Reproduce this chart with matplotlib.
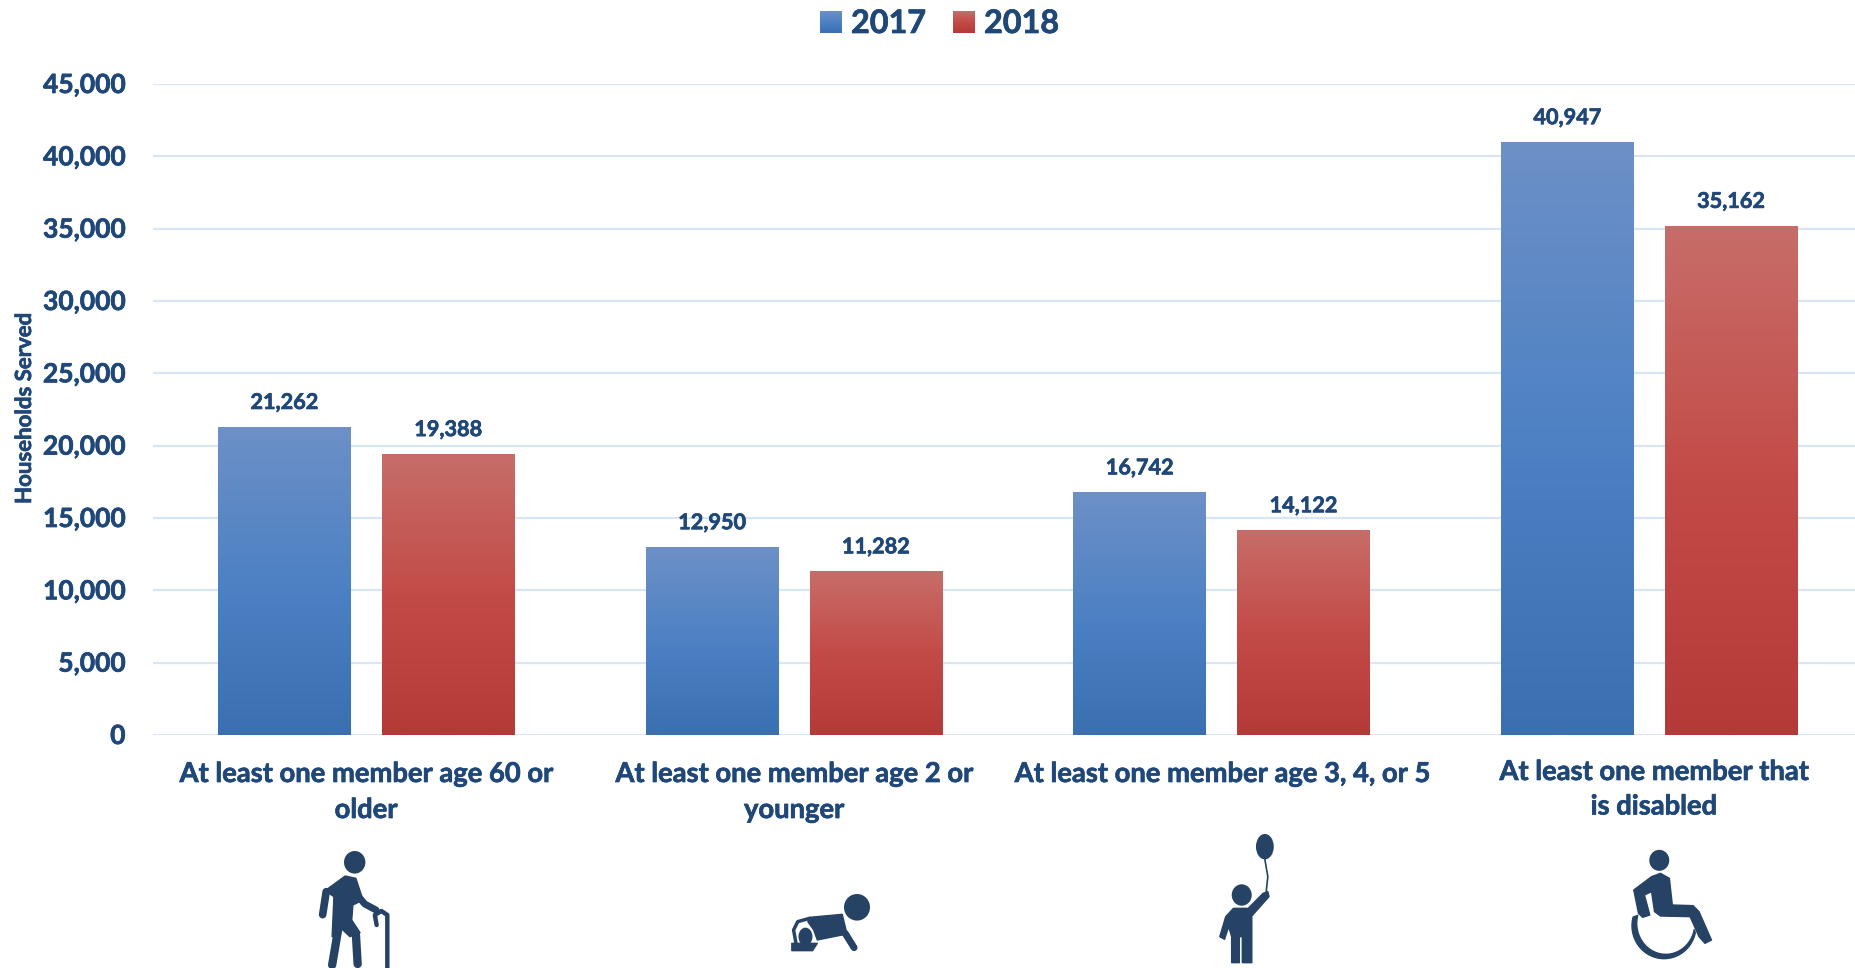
import matplotlib
matplotlib.use("Agg")
import matplotlib.pyplot as plt
import matplotlib.patheffects as pe
from matplotlib.patches import Ellipse, Polygon
from matplotlib.colors import LinearSegmentedColormap
from matplotlib.transforms import ScaledTranslation
import numpy as np

categories = ["At least one member age 60 or\nolder",
              "At least one member age 2 or\nyounger",
              "At least one member age 3, 4, or 5",
              "At least one member that\nis disabled"]
values_2017 = [21262, 12950, 16742, 40947]
values_2018 = [19388, 11282, 14122, 35162]
yticks = [0, 5000, 10000, 15000, 20000, 25000, 30000, 35000, 40000, 45000]

W, H = 1855, 968
NAVY = "#1f4778"
ICON = "#264264"
# Lato bold is a bit lighter than the original font
BOLD = [pe.withStroke(linewidth=0.5, foreground=NAVY)]

plt.rcParams["font.family"] = ["Lato", "DejaVu Sans"]
plt.rcParams["font.weight"] = "bold"

blue = LinearSegmentedColormap.from_list("b", [(0, "#3a6fb0"), (0.45, "#4a80c3"), (1, "#6d90c7")])
red = LinearSegmentedColormap.from_list("r", [(0, "#b43a38"), (0.5, "#c34b47"), (1, "#c76d69")])
grad = np.linspace(1, 0, 256).reshape(-1, 1)

fig = plt.figure(figsize=(W/100, H/100), dpi=100)
ax = fig.add_axes([152.5/W, 1-735/H, (1863-152.5)/W, (735-84)/H])
ax.set_axisbelow(True)
ax.grid(axis="y", color="#d8e5f4", lw=1.6)
for s in ax.spines.values():
    s.set_visible(False)
ax.set_yticks(yticks)
ax.set_yticklabels([f"{v:,}" for v in yticks], fontsize=19, color=NAVY, path_effects=BOLD)
ax.tick_params(axis="y", length=0, pad=19.5)
ax.set_xticks([])
# tick labels sit one pixel above the gridline
up = ScaledTranslation(0, 1/100, fig.dpi_scale_trans)
for lab in ax.get_yticklabels():
    lab.set_transform(lab.get_transform()+up)

width = 0.31
offset = 0.1915
x = np.arange(4)
for xs, vals, cmap in [(x-offset, values_2017, blue), (x+offset, values_2018, red)]:
    bars = ax.bar(xs, vals, width, color="none", zorder=2)
    for b, v in zip(bars, vals):
        ax.imshow(grad, cmap=cmap, vmin=0, vmax=1, aspect="auto", zorder=2,
                  extent=[b.get_x(), b.get_x()+b.get_width(), 0, v])
        ax.annotate(f"{v:,}", (b.get_x()+b.get_width()/2, v), xytext=(0, 10.4),
                    textcoords="offset points", ha="center", va="bottom",
                    fontsize=15.6, color=NAVY, path_effects=BOLD)
ax.set_xlim(-0.5, 3.5)
ax.set_ylim(0, 45000)

# overlay in reference pixels for labels, legend and icons
ov = fig.add_axes([0, 0, 1, 1], facecolor="none")
ov.axis("off")

# the last label sits slightly higher
label_x = [366, 794, 1222, 1654]
label_y = [774, 774, 774, 772]
for lx, ly, lab in zip(label_x, label_y, categories):
    step = 36 if ly == 774 else 34.5
    for j, t in enumerate(lab.split("\n")):
        ov.text(lx, ly+j*step, t, ha="center", va="center", fontsize=19.7, color=NAVY, path_effects=BOLD)

ov.text(24.5, 408, "Households Served", rotation=90, ha="center", va="center",
        fontsize=16, color=NAVY, path_effects=BOLD)

# legend
for x0, cmap, name in [(820, blue, "2017"), (953, red, "2018")]:
    ov.imshow(grad, cmap=cmap, vmin=0, vmax=1, aspect="auto", extent=[x0, x0+22, 33, 11])
    ov.text(x0+31, 23.5, name, ha="left", va="center", fontsize=23.3, color=NAVY, path_effects=BOLD)
ov.set_xlim(0, W)
ov.set_ylim(H, 0)


def P1(pts):
    return [(px/1.686, 780+py/3) for px, py in pts]


def P2(pts):
    return [(925+px/1.686, 780+py/3) for px, py in pts]


def head(cx, cy, rx, ry):
    ov.add_patch(Ellipse((cx, cy), 2*rx, 2*ry, color=ICON, lw=0))


def shape(pts):
    ov.add_patch(Polygon(pts, closed=True, fc=ICON, ec=ICON, lw=1, joinstyle="round"))


def stroke(pts, lw):
    a = np.array(pts)
    ov.plot(a[:, 0], a[:, 1], color=ICON, lw=lw, solid_capstyle="round", solid_joinstyle="round")


# old man with cane
head(354.7, 862.3, 10.7, 11.3)
shape(P1([(548, 332), (582, 288), (600, 295), (612, 360), (595, 375), (593, 420), (607, 458),
          (590, 470), (575, 445), (565, 470), (560, 470), (563, 350)]))
stroke(P1([(550, 335), (544, 404)]), 5.5)
stroke(P1([(602, 345), (615, 372), (634, 390)]), 5)
stroke(P1([(600, 462), (603, 552)]), 6)
stroke(P1([(570, 450), (560, 555)]), 6)
stroke(P1([(653, 564), (653, 405), (643, 393), (632, 405), (635, 435)]), 3.2)

# crawling baby
head(857, 907.3, 13, 13.3)
shape(P1([(1365, 412), (1420, 403), (1428, 462), (1378, 480), (1372, 450), (1362, 425)]))
stroke(P1([(1365, 415), (1345, 425), (1338, 450), (1342, 490)]), 2.5)
stroke(P1([(1425, 460), (1440, 503)]), 5)
ov.add_patch(Ellipse((1358/1.686, 780+470/3), 14, 18, color=ICON, lw=0))
shape(P1([(1335, 490), (1378, 490), (1370, 512), (1335, 512)]))

# child with balloon
head(925+573/1.686, 780+200/3, 8.9, 12.7)
stroke(P2([(573, 238), (578, 290), (575, 340)]), 1.2)
head(925+534/1.686, 780+345/3, 10, 10.7)
shape(P2([(578, 335), (580, 350), (551, 408), (551, 548), (535, 548), (535, 470), (530, 470),
          (530, 548), (517, 548), (517, 470), (512, 440), (505, 478), (497, 470), (507, 410),
          (520, 385), (545, 385), (570, 340)]))

# wheelchair
head(925+1238/1.686, 780+241/3, 10, 10.5)
shape(P2([(1240, 280), (1255, 295), (1260, 375), (1295, 377), (1305, 395), (1326, 480), (1315, 490),
          (1305, 470), (1290, 410), (1240, 408), (1230, 395), (1225, 335), (1213, 345), (1222, 405),
          (1210, 412), (1203, 400), (1195, 330), (1225, 290)]))
t = np.radians(np.linspace(12, 195, 60))
outer = list(zip(1246+54*np.cos(t), 437+99*np.sin(t)))
inner = list(zip(1249+49*np.cos(t), 430+93*np.sin(t)))
shape(P2(outer+inner[::-1]))

fig.savefig("out.png", dpi=100)
